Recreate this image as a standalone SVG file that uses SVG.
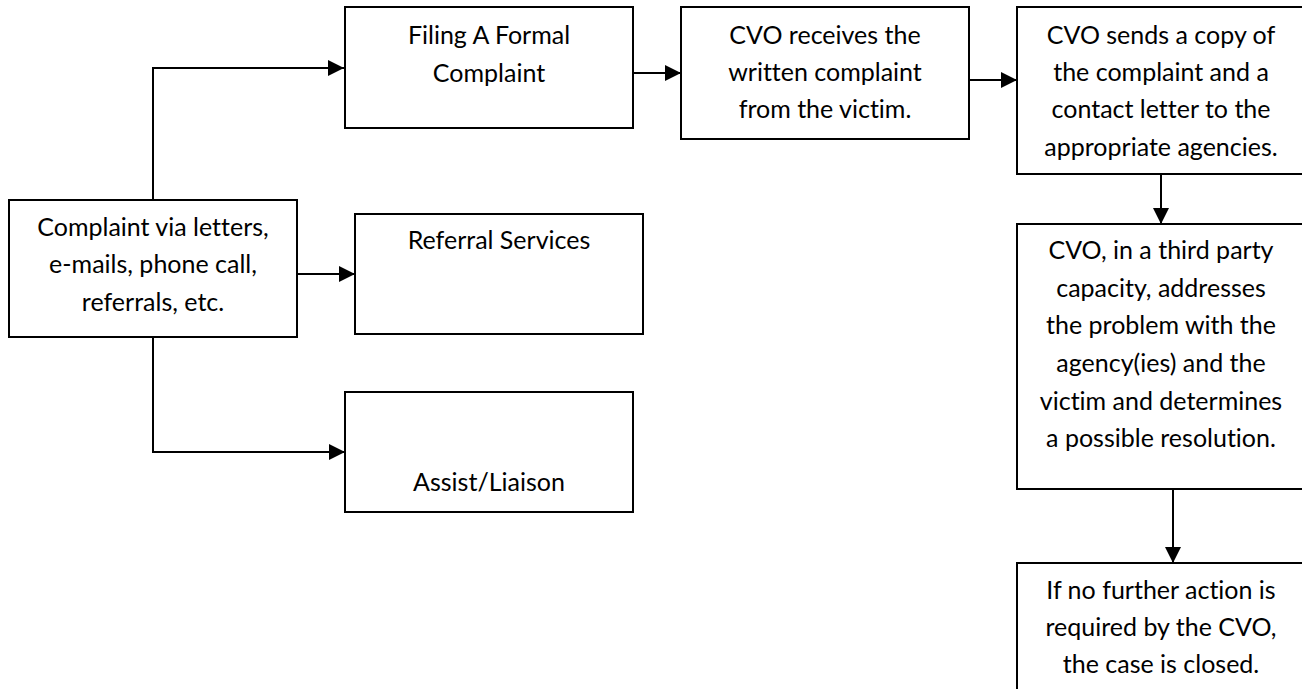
<svg xmlns="http://www.w3.org/2000/svg" width="1302" height="689" viewBox="0 0 1302 689">
<style>
.box{fill:#fff;stroke:#000;stroke-width:2}
.t{font-family:Lato,"Liberation Sans",sans-serif;font-size:25px;fill:#000;text-anchor:middle;font-variant-ligatures:none}
.c{fill:none;stroke:#000;stroke-width:2}
</style>
<defs>
<marker id="ah" markerUnits="userSpaceOnUse" markerWidth="17" markerHeight="17" refX="16" refY="8" orient="auto">
<path d="M0,0 L16,8 L0,16 z" fill="#000"/>
</marker>
</defs>
<rect width="1302" height="689" fill="#fff"/>
<g id="connectors">
<path class="c" d="M153,200 V68 H344" marker-end="url(#ah)"/>
<path class="c" d="M633,73 H681" marker-end="url(#ah)"/>
<path class="c" d="M969,80 H1017" marker-end="url(#ah)"/>
<path class="c" d="M297,274 H355" marker-end="url(#ah)"/>
<path class="c" d="M153,337 V452 H345" marker-end="url(#ah)"/>
<path class="c" d="M1161,174 V224" marker-end="url(#ah)"/>
<path class="c" d="M1173,489 V563" marker-end="url(#ah)"/>
</g>
<g id="filing">
<rect class="box" x="345" y="7" width="288" height="121"/>
<text class="t" x="489" y="44">Filing A Formal</text>
<text class="t" x="489" y="82">Complaint</text>
</g>
<g id="receives">
<rect class="box" x="681" y="7" width="288" height="132"/>
<text class="t" x="825" y="44">CVO receives the</text>
<text class="t" x="825" y="81">written complaint</text>
<text class="t" x="825" y="118">from the victim.</text>
</g>
<g id="sends">
<rect class="box" x="1017" y="7" width="300" height="167"/>
<text class="t" x="1161" y="44">CVO sends a copy of</text>
<text class="t" x="1161" y="81">the complaint and a</text>
<text class="t" x="1161" y="118">contact letter to the</text>
<text class="t" x="1161" y="156">appropriate agencies.</text>
</g>
<g id="complaint">
<rect class="box" x="9" y="200" width="288" height="137"/>
<text class="t" x="153" y="236">Complaint via letters,</text>
<text class="t" x="153" y="273">e-mails, phone call,</text>
<text class="t" x="153" y="311">referrals, etc.</text>
</g>
<g id="referral">
<rect class="box" x="355" y="214" width="288" height="120"/>
<text class="t" x="499" y="249">Referral Services</text>
</g>
<g id="assist">
<rect class="box" x="345" y="392" width="288" height="120"/>
<text class="t" x="489" y="491">Assist/Liaison</text>
</g>
<g id="third">
<rect class="box" x="1017" y="224" width="300" height="265"/>
<text class="t" x="1161" y="259">CVO, in a third party</text>
<text class="t" x="1161" y="297">capacity, addresses</text>
<text class="t" x="1161" y="334">the problem with the</text>
<text class="t" x="1161" y="372">agency(ies) and the</text>
<text class="t" x="1161" y="410">victim and determines</text>
<text class="t" x="1161" y="447">a possible resolution.</text>
</g>
<g id="closed">
<rect class="box" x="1017" y="563" width="300" height="150"/>
<text class="t" x="1161" y="599">If no further action is</text>
<text class="t" x="1161" y="636">required by the CVO,</text>
<text class="t" x="1161" y="673">the case is closed.</text>
</g>
</svg>
